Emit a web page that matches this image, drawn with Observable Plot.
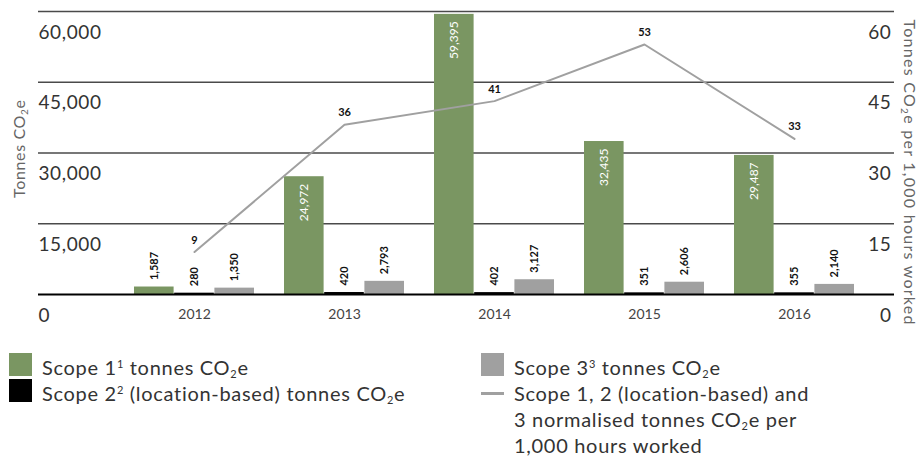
<!DOCTYPE html>
<html>
<head>
<meta charset="utf-8">
<script src="https://cdn.jsdelivr.net/npm/d3@7"></script>
<script src="https://cdn.jsdelivr.net/npm/@observablehq/plot@0.6"></script>
<style>
  body { margin: 0; background: #fff; font-family: Lato, "Open Sans", sans-serif; }
  #wrap { position: relative; width: 920px; height: 457px; overflow: hidden; }
  #legend { position: absolute; left: 0; top: 340px; width: 920px; height: 117px; color: #333; font-size: 20px; line-height: 26px; letter-spacing: 0.7px; }
  .col { position: absolute; top: 14px; }
  .item { position: relative; padding-left: 33px; white-space: nowrap; }
  .sw { position: absolute; left: 0; top: -1px; width: 23px; height: 23px; }
  .ln { position: absolute; left: 0; top: 12px; width: 23px; height: 3px; background: #a0a0a0; }
  sup { font-size: 11px; vertical-align: 7px; line-height: 0; }
  sub { font-size: 11px; vertical-align: -3px; line-height: 0; }
</style>
</head>
<body>
<div id="wrap">
  <div id="chart"></div>
  <div id="legend">
    <div class="col" style="left:9px">
      <div class="item"><span class="sw" style="background:#7a9662"></span>Scope 1<sup>1</sup> tonnes CO<sub>2</sub>e</div>
      <div class="item"><span class="sw" style="background:#000"></span>Scope 2<sup>2</sup> (location-based) tonnes CO<sub>2</sub>e</div>
    </div>
    <div class="col" style="left:481px">
      <div class="item"><span class="sw" style="background:#a0a0a0"></span>Scope 3<sup>3</sup> tonnes CO<sub>2</sub>e</div>
      <div class="item"><span class="ln"></span>Scope 1, 2 (location-based) and<br>3 normalised tonnes CO<sub>2</sub>e per<br>1,000 hours worked</div>
    </div>
  </div>
</div>
<script>
const years = ["2012", "2013", "2014", "2015", "2016"];
const scope1 = [1587, 24972, 59395, 32435, 29487];
const scope2 = [280, 420, 402, 351, 355];
const scope3 = [1350, 2793, 3127, 2606, 2140];
const normalised = [9, 36, 41, 53, 33];
const leftTicks = [0, 15000, 30000, 45000, 60000];
const rightTicks = [0, 15, 30, 45, 60];

const green = "#7a9662", black = "#000", gray = "#a0a0a0";
const s1 = years.map((year, i) => ({year, v: scope1[i]}));
const s2 = years.map((year, i) => ({year, v: scope2[i]}));
const s3 = years.map((year, i) => ({year, v: scope3[i]}));
const ln = years.map((year, i) => ({year, v: normalised[i]}));
const rightScale = 1000; // right axis maps onto the left scale (60 ↔ 60,000)

const fmt = d3.format(",");
const BW = 40.2; // single bar width in px (a third of the band)
const W = 920, H = 340;

const chart = Plot.plot({
  width: W,
  height: H,
  marginLeft: 38,
  marginRight: 26,
  marginTop: 11,
  marginBottom: 46,
  style: {fontFamily: "Lato, 'Open Sans', sans-serif", background: "#fff"},
  x: {type: "band", domain: years, range: [117.1, 871.5], paddingInner: 0.2, paddingOuter: 0.1},
  y: {domain: [0, 60000]},
  marks: [
    Plot.ruleY(leftTicks.slice(1), {stroke: "#4a4a4a", strokeWidth: 1.4}),
    Plot.barY(s1, {x: "year", y: "v", fill: green, insetRight: 2 * BW}),
    Plot.barY(s2, {x: "year", y: "v", fill: black, insetLeft: BW, insetRight: BW}),
    Plot.barY(s3, {x: "year", y: "v", fill: gray, insetLeft: 2 * BW}),
    Plot.ruleY([0], {stroke: "#000", strokeWidth: 2}),
    Plot.lineY(ln, {x: "year", y: d => d.v * rightScale, stroke: gray, strokeWidth: 2}),
    // bar labels
    Plot.text(s1.filter(d => d.v < 15000), {x: "year", y: "v", text: d => fmt(d.v), rotate: -90, textAnchor: "start", dx: -BW, dy: -7, fontSize: 11, fontWeight: "bold", fill: "#111"}),
    Plot.text(s1.filter(d => d.v >= 15000), {x: "year", y: "v", text: d => fmt(d.v), rotate: -90, textAnchor: "end", dx: -BW, dy: 7, fontSize: 12, fill: "#fff"}),
    Plot.text(s2, {x: "year", y: "v", text: d => fmt(d.v), rotate: -90, textAnchor: "start", dy: -7, fontSize: 11, fontWeight: "bold", fill: "#111"}),
    Plot.text(s3, {x: "year", y: "v", text: d => fmt(d.v), rotate: -90, textAnchor: "start", dx: BW, dy: -7, fontSize: 11, fontWeight: "bold", fill: "#111"}),
    // line labels
    Plot.text(ln, {x: "year", y: d => d.v * rightScale, text: d => String(d.v), dy: -12, fontSize: 11, fontWeight: "bold", fill: "#111"}),
    // axes
    Plot.axisX({tickSize: 0, tickPadding: 15, fontSize: 14, color: "#444", label: null}),
    Plot.axisY({anchor: "left", ticks: leftTicks, tickFormat: fmt, tickSize: 0, tickPadding: 0, textAnchor: "start", dy: 21, fontSize: 19, fill: "#333", label: null}),
    Plot.axisY({anchor: "right", ticks: rightTicks.map(v => v * rightScale), tickFormat: d => String(d / rightScale), tickSize: 0, tickPadding: 0, textAnchor: "end", dx: -3, dy: 21, fontSize: 19, fill: "#333", label: null})
  ]
});

document.getElementById("chart").appendChild(chart);
d3.select(chart).selectAll("g[aria-label='y-axis tick label'] text, g[aria-label='y-axis tick label']").style("letter-spacing", "0.6px");

// axis titles
const svg = d3.select(chart);
function title(x, y, rot, len, parts) {
  const t = svg.append("text")
    .attr("transform", `translate(${x},${y}) rotate(${rot})`)
    .attr("text-anchor", "middle")
    .attr("fill", "#666")
    .attr("font-size", 16)
    .attr("textLength", len)
    .attr("lengthAdjust", "spacing");
  parts.forEach(p => {
    const s = t.append("tspan").text(p.t);
    if (p.sub) s.attr("font-size", 10).attr("baseline-shift", "-30%");
  });
}
title(25, 149, -90, 98, [{t: "Tonnes CO"}, {t: "2", sub: true}, {t: "e"}]);
title(904, 172, 90, 305, [{t: "Tonnes CO"}, {t: "2", sub: true}, {t: "e per 1,000 hours worked"}]);
</script>
</body>
</html>
